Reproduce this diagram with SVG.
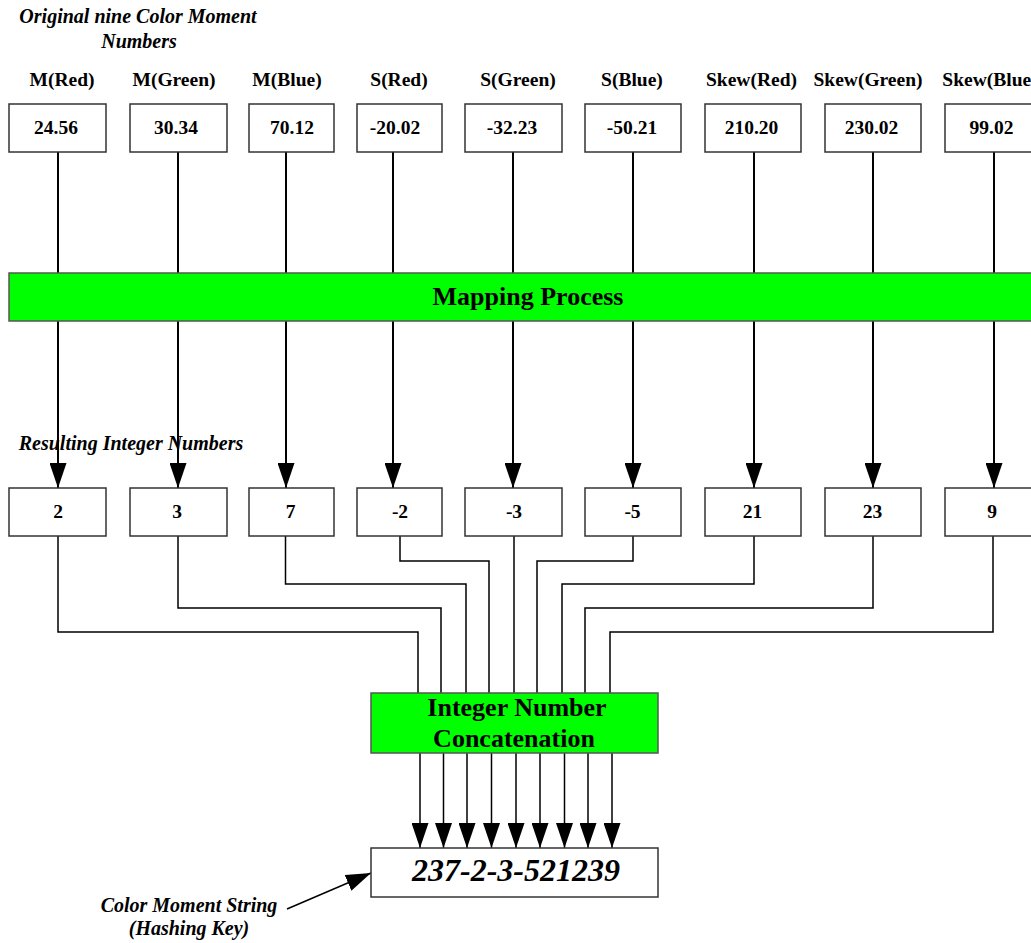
<svg xmlns="http://www.w3.org/2000/svg" width="1031" height="943" viewBox="0 0 1031 943">
<style>
text{font-family:"Liberation Serif","Times New Roman",serif;font-weight:bold;fill:#000;text-anchor:middle}
.it{font-style:italic}
.hd{font-size:19.5px}
.val{font-size:19.5px}
.box{fill:#fff;stroke:#333;stroke-width:1.5}
.green{fill:#00ff00;stroke:#555;stroke-width:1.5}
.c1{stroke:#000;stroke-width:2;fill:none}
.c2{stroke:#000;stroke-width:1.5;fill:none}
</style>
<defs>
<marker id="ah" viewBox="0 0 25 17" refX="25" refY="8.5" markerWidth="25" markerHeight="17" markerUnits="userSpaceOnUse" orient="auto">
<path d="M0,0 L25,8.5 L0,17 z" fill="#000"/>
</marker>
</defs>
<rect width="1031" height="943" fill="#fff"/>
<g id="titles">
<text class="it" x="138" y="23" font-size="20">Original nine Color Moment</text>
<text class="it" x="139" y="48" font-size="20">Numbers</text>
<text class="it" x="131" y="450" font-size="20">Resulting Integer Numbers</text>
</g>
<g id="headers" class="hd">
<text class="hd" x="62" y="86">M(Red)</text>
<text class="hd" x="174" y="86">M(Green)</text>
<text class="hd" x="287" y="86">M(Blue)</text>
<text class="hd" x="399" y="86">S(Red)</text>
<text class="hd" x="518" y="86">S(Green)</text>
<text class="hd" x="632" y="86">S(Blue)</text>
<text class="hd" x="751.5" y="86">Skew(Red)</text>
<text class="hd" x="868" y="86">Skew(Green)</text>
<text class="hd" x="990" y="86">Skew(Blue)</text>
</g>
<g id="connectors">
<line class="c1" x1="58" y1="152" x2="58" y2="488" marker-end="url(#ah)"/>
<line class="c1" x1="178" y1="152" x2="178" y2="488" marker-end="url(#ah)"/>
<line class="c1" x1="286" y1="152" x2="286" y2="488" marker-end="url(#ah)"/>
<line class="c1" x1="393" y1="152" x2="393" y2="488" marker-end="url(#ah)"/>
<line class="c1" x1="513" y1="152" x2="513" y2="488" marker-end="url(#ah)"/>
<line class="c1" x1="633" y1="152" x2="633" y2="488" marker-end="url(#ah)"/>
<line class="c1" x1="754" y1="152" x2="754" y2="488" marker-end="url(#ah)"/>
<line class="c1" x1="873" y1="152" x2="873" y2="488" marker-end="url(#ah)"/>
<line class="c1" x1="994" y1="152" x2="994" y2="488" marker-end="url(#ah)"/>
<polyline class="c2" points="58,536 58,632 418,632 418,693"/>
<polyline class="c2" points="178,536 178,608 441,608 441,693"/>
<polyline class="c2" points="285.5,536 285.5,584 466,584 466,693"/>
<polyline class="c2" points="400,536 400,561 489,561 489,693"/>
<polyline class="c2" points="514,536 514,693"/>
<polyline class="c2" points="633,536 633,561 537,561 537,693"/>
<polyline class="c2" points="754,536 754,584 562,584 562,693"/>
<polyline class="c2" points="873,536 873,608 585,608 585,693"/>
<polyline class="c2" points="993,536 993,632 610,632 610,693"/>
<line class="c2" x1="420" y1="753" x2="420" y2="848" marker-end="url(#ah)"/>
<line class="c2" x1="443.5" y1="753" x2="443.5" y2="848" marker-end="url(#ah)"/>
<line class="c2" x1="467" y1="753" x2="467" y2="848" marker-end="url(#ah)"/>
<line class="c2" x1="491.5" y1="753" x2="491.5" y2="848" marker-end="url(#ah)"/>
<line class="c2" x1="516" y1="753" x2="516" y2="848" marker-end="url(#ah)"/>
<line class="c2" x1="540" y1="753" x2="540" y2="848" marker-end="url(#ah)"/>
<line class="c2" x1="564.5" y1="753" x2="564.5" y2="848" marker-end="url(#ah)"/>
<line class="c2" x1="588" y1="753" x2="588" y2="848" marker-end="url(#ah)"/>
<line class="c2" x1="612" y1="753" x2="612" y2="848" marker-end="url(#ah)"/>
<line class="c2" x1="287" y1="909" x2="371" y2="873" marker-end="url(#ah)"/>
</g>
<g id="in1"><rect class="box" x="9" y="104" width="97" height="48"/><text class="val" x="56" y="134">24.56</text></g>
<g id="in2"><rect class="box" x="130" y="104" width="97" height="48"/><text class="val" x="176" y="134">30.34</text></g>
<g id="in3"><rect class="box" x="249" y="104" width="85" height="48"/><text class="val" x="292" y="134">70.12</text></g>
<g id="in4"><rect class="box" x="357" y="104" width="85" height="48"/><text class="val" x="395" y="134">-20.02</text></g>
<g id="in5"><rect class="box" x="465" y="104" width="97" height="48"/><text class="val" x="512" y="134">-32.23</text></g>
<g id="in6"><rect class="box" x="585" y="104" width="96" height="48"/><text class="val" x="632" y="134">-50.21</text></g>
<g id="in7"><rect class="box" x="705" y="104" width="96" height="48"/><text class="val" x="751.5" y="134">210.20</text></g>
<g id="in8"><rect class="box" x="825" y="104" width="96" height="48"/><text class="val" x="871.5" y="134">230.02</text></g>
<g id="in9"><rect class="box" x="945" y="104" width="96" height="48"/><text class="val" x="991.5" y="134">99.02</text></g>
<g id="mapping"><rect class="green" x="9" y="273" width="1030" height="48"/><text x="528" y="305" font-size="26">Mapping Process</text></g>
<g id="out1"><rect class="box" x="9" y="488" width="97" height="48"/><text class="val" x="58" y="518">2</text></g>
<g id="out2"><rect class="box" x="130" y="488" width="97" height="48"/><text class="val" x="177" y="518">3</text></g>
<g id="out3"><rect class="box" x="249" y="488" width="85" height="48"/><text class="val" x="290.5" y="518">7</text></g>
<g id="out4"><rect class="box" x="357" y="488" width="85" height="48"/><text class="val" x="400" y="518">-2</text></g>
<g id="out5"><rect class="box" x="465" y="488" width="97" height="48"/><text class="val" x="514" y="518">-3</text></g>
<g id="out6"><rect class="box" x="585" y="488" width="96" height="48"/><text class="val" x="632.5" y="518">-5</text></g>
<g id="out7"><rect class="box" x="705" y="488" width="96" height="48"/><text class="val" x="752.5" y="518">21</text></g>
<g id="out8"><rect class="box" x="825" y="488" width="96" height="48"/><text class="val" x="872.5" y="518">23</text></g>
<g id="out9"><rect class="box" x="945" y="488" width="96" height="48"/><text class="val" x="992" y="518">9</text></g>
<g id="concat"><rect class="green" x="371" y="693" width="287" height="60"/><text x="517" y="716" font-size="26">Integer Number</text><text x="514" y="747" font-size="26">Concatenation</text></g>
<g id="result"><rect class="box" x="371" y="848" width="287" height="49"/><text class="it" x="516" y="881" font-size="32">237-2-3-521239</text></g>
<g id="keylabel"><text class="it" x="189" y="912" font-size="20">Color Moment String</text><text class="it" x="189" y="935" font-size="20">(Hashing Key)</text></g>
</svg>
